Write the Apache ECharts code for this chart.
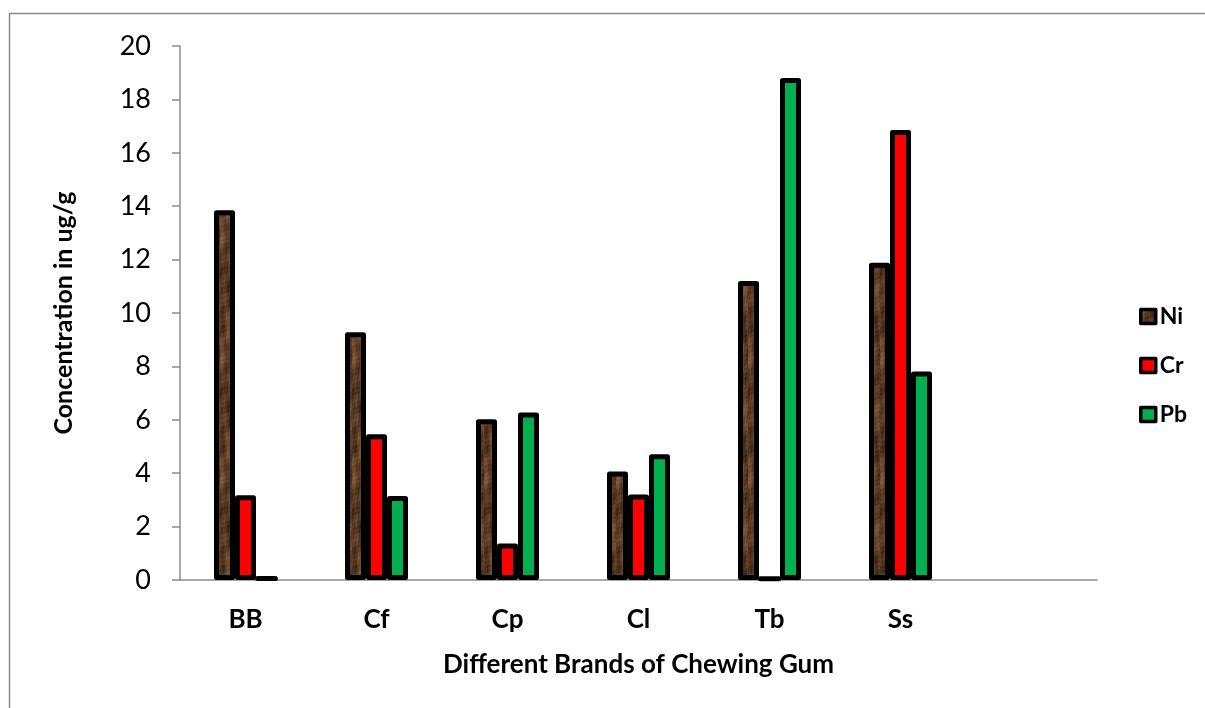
<!DOCTYPE html>
<html>
<head>
<meta charset="utf-8">
<script src="https://cdn.jsdelivr.net/npm/echarts@6/dist/echarts.min.js"></script>
<style>
html,body{margin:0;padding:0;background:#fff;}
#c{width:1205px;height:708px;}
</style>
</head>
<body>
<div id="c"></div>
<script>
const categories = ['BB', 'Cf', 'Cp', 'Cl', 'Tb', 'Ss', ''];
const niValues = [13.85, 9.28, 6.02, 4.06, 11.2, 11.88, null];
const crValues = [3.17, 5.46, 1.37, 3.2, 0.1, 16.85, null];
const pbValues = [0.12, 3.15, 6.27, 4.71, 18.8, 7.81, null];
const yTicks = [0, 2, 4, 6, 8, 10, 12, 14, 16, 18, 20];

// brown mottled texture for Ni (deterministic pattern)
function makeTexture() {
  const W = 22, H = 120;
  const cv = document.createElement('canvas');
  cv.width = W; cv.height = H;
  const ctx = cv.getContext('2d');
  const img = ctx.createImageData(W, H);
  for (let y = 0; y < H; y++) {
    for (let x = 0; x < W; x++) {
      const v = 0.42
        + 0.20 * Math.sin(x * 0.55 + y * 0.13 + 0.7) * Math.cos(y * 0.19 - x * 0.31)
        + 0.16 * Math.sin(y * 0.105 + 2.1) * Math.sin(x * 0.4 + 1.0)
        + 0.10 * Math.sin(x * 1.3 + y * 0.77) * Math.sin(y * 0.53 - x * 0.9)
        + 0.08 * Math.cos(y * 0.052 + x * 0.2);
      const t = Math.max(0, Math.min(1, v));
      const i = (y * W + x) * 4;
      img.data[i] = 50 + t * 95;
      img.data[i + 1] = 28 + t * 75;
      img.data[i + 2] = 12 + t * 58;
      img.data[i + 3] = 255;
    }
  }
  ctx.putImageData(img, 0, 0);
  return cv;
}
const tex = makeTexture();

const chart = echarts.init(document.getElementById('c'));
const fontFam = 'Lato, "Open Sans", sans-serif';
const barCommon = {
  type: 'bar',
  barWidth: 21,
  barGap: '0%',
  itemStyle: {borderColor: '#000', borderWidth: 5, borderJoin: 'round'}
};
chart.setOption({
  animation: false,
  backgroundColor: '#fff',
  textStyle: {fontFamily: fontFam},
  graphic: [{
    type: 'rect', silent: true, z: -10,
    shape: {x: 9.5, y: 13.5, width: 1400, height: 900},
    style: {fill: 'none', stroke: '#8c8c8c', lineWidth: 1.5}
  }],
  grid: {left: 180, right: 108, top: 46, bottom: 128, containLabel: false},
  legend: {
    orient: 'vertical',
    left: 1134, top: 300,
    itemWidth: 15, itemHeight: 14, itemGap: 26,
    icon: 'rect',
    itemStyle: {borderWidth: 3.5, borderColor: '#000'},
    textStyle: {fontFamily: fontFam, fontWeight: 'bold', fontSize: 23, color: '#000', padding: [0, 0, 0, -1]},
    data: ['Ni', 'Cr', 'Pb']
  },
  xAxis: {
    type: 'category',
    data: categories,
    name: 'Different Brands of Chewing Gum',
    nameLocation: 'middle',
    nameGap: 72,
    nameTextStyle: {fontFamily: fontFam, fontWeight: 'bold', fontSize: 26, color: '#000'},
    axisLine: {lineStyle: {color: '#8c8c8c', width: 1.5}},
    axisTick: {show: false},
    axisLabel: {fontFamily: fontFam, fontWeight: 'bold', fontSize: 26, color: '#000', margin: 27},
    splitLine: {show: false}
  },
  yAxis: {
    type: 'value',
    min: yTicks[0], max: yTicks[yTicks.length - 1], interval: 2,
    name: 'Concentration in ug/g',
    nameLocation: 'middle',
    nameGap: 104,
    nameTextStyle: {fontFamily: fontFam, fontWeight: 'bold', fontSize: 25, color: '#000'},
    axisLine: {show: true, lineStyle: {color: '#8c8c8c', width: 1.5}},
    axisTick: {show: true, length: 8, lineStyle: {color: '#8c8c8c', width: 1.5}},
    axisLabel: {fontFamily: fontFam, fontSize: 27, color: '#000', margin: 29},
    splitLine: {show: false}
  },
  series: [
    Object.assign({}, barCommon, {name: 'Ni', data: niValues,
      itemStyle: Object.assign({}, barCommon.itemStyle, {color: {image: tex, repeat: 'repeat'}})}),
    Object.assign({}, barCommon, {name: 'Cr', data: crValues,
      itemStyle: Object.assign({}, barCommon.itemStyle, {color: '#ff0000'})}),
    Object.assign({}, barCommon, {name: 'Pb', data: pbValues,
      itemStyle: Object.assign({}, barCommon.itemStyle, {color: '#00b050'})})
  ]
});
</script>
</body>
</html>
